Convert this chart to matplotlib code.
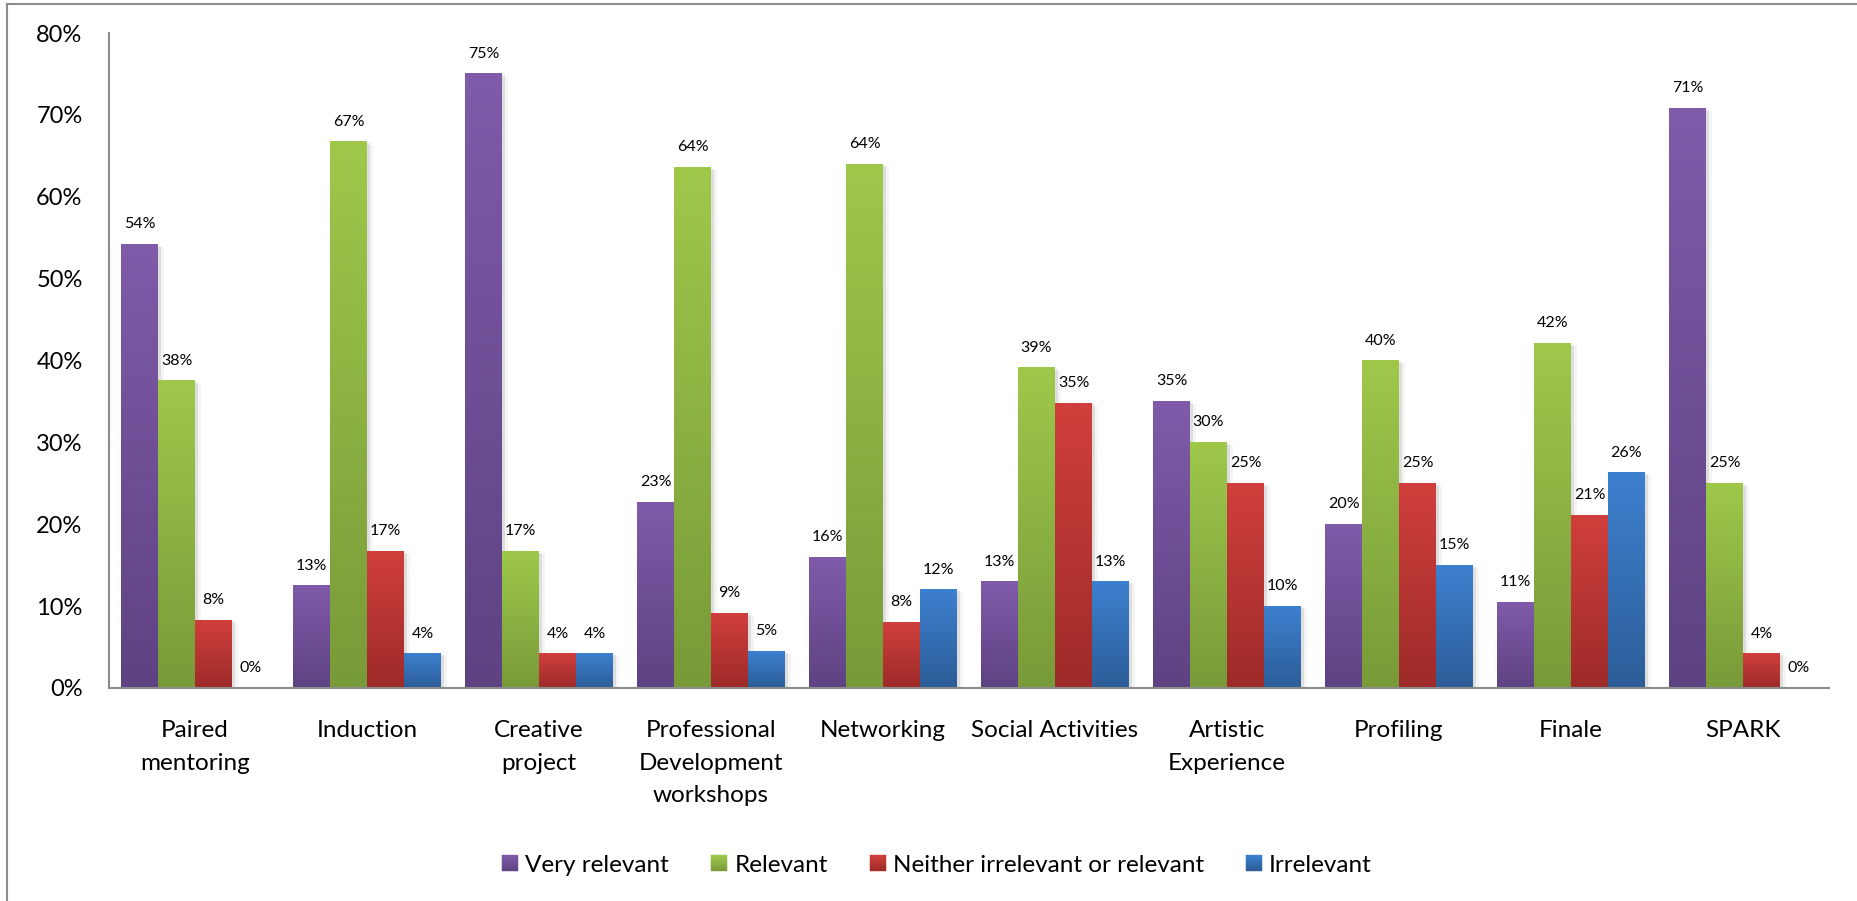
import numpy as np
import matplotlib.pyplot as plt
import matplotlib.patheffects as pe
from matplotlib.colors import LinearSegmentedColormap
from matplotlib.legend_handler import HandlerBase
from matplotlib.lines import Line2D
from matplotlib.patches import Rectangle

plt.rcParams['font.family'] = ['Lato', 'DejaVu Sans']

categories = ["Paired\nmentoring", "Induction", "Creative\nproject",
              "Professional\nDevelopment\nworkshops", "Networking",
              "Social Activities", "Artistic\nExperience", "Profiling",
              "Finale", "SPARK"]
series = ["Very relevant", "Relevant", "Neither irrelevant or relevant",
          "Irrelevant"]

# percentages per category
very_relevant = [54.2, 12.5, 75.0, 22.7, 16.0, 13.0, 35.0, 20.0, 10.5, 70.8]
relevant = [37.5, 66.7, 16.7, 63.6, 64.0, 39.1, 30.0, 40.0, 42.1, 25.0]
neither = [8.3, 16.7, 4.2, 9.1, 8.0, 34.8, 25.0, 25.0, 21.1, 4.2]
irrelevant = [0.0, 4.2, 4.2, 4.5, 12.0, 13.0, 10.0, 15.0, 26.3, 0.0]

yticks = [0, 10, 20, 30, 40, 50, 60, 70, 80]

# (top, bottom) gradient colours of each series
colors_top = ["#7F5BA9", "#9FC84B", "#D03F3C", "#3D80CF"]
colors_bottom = ["#5E4282", "#789A39", "#9D2B29", "#2C5D98"]

W, H = 1857, 901
fig = plt.figure(figsize=(W / 100, H / 100), dpi=100)
ax = fig.add_axes([109 / W, 1 - 688 / H, 1720 / W, 655 / H])

x = np.arange(len(categories))
width = 0.215
grad = np.linspace(1, 0, 256).reshape(-1, 1)
shadow = [pe.SimplePatchShadow(offset=(2, -1), shadow_rgbFace='0.4', alpha=0.15),
          pe.SimplePatchShadow(offset=(4, -2), shadow_rgbFace='0.4', alpha=0.07),
          pe.Normal()]

handles = []
handler_map = {}


class GradientSquare(HandlerBase):
    def __init__(self, cmap):
        super().__init__()
        self.cmap = cmap

    def create_artists(self, legend, orig_handle, xdescent, ydescent,
                       width, height, fontsize, trans):
        n = 16
        out = []
        for i in range(n):
            c = self.cmap((i + 0.5) / n)
            out.append(Rectangle((-xdescent, -ydescent + height * i / n),
                                 width, height / n, facecolor=c, edgecolor=c,
                                 lw=0.3, transform=trans))
        return out


for i, vals in enumerate([very_relevant, relevant, neither, irrelevant]):
    cmap = LinearSegmentedColormap.from_list(series[i], [colors_bottom[i], colors_top[i]])
    pos = x + (i - 1.5) * width
    bars = ax.bar(pos, vals, width, color=colors_top[i], zorder=2,
                  path_effects=shadow)
    for b, v in zip(bars, vals):
        if v > 0:
            ax.imshow(grad, extent=[b.get_x(), b.get_x() + b.get_width(), 0, v],
                      aspect='auto', cmap=cmap, vmin=0, vmax=1, zorder=3,
                      interpolation='bilinear')
        ax.annotate(f"{int(v + 0.5)}%", (b.get_x() + b.get_width() / 2, v),
                    xytext=(0, 16), textcoords='offset pixels', ha='center',
                    va='baseline', fontsize=11.5, color='black', zorder=4)
    h = Rectangle((0, 0), 1, 1, label=series[i])
    handles.append(h)
    handler_map[h] = GradientSquare(cmap)

ax.set_xlim(-0.5, len(categories) - 0.5)
ax.set_ylim(0, 80)
ax.set_yticks(yticks)
ax.set_yticklabels([f"{t}%" for t in yticks], fontsize=17)
ax.set_xticks(x)
ax.set_xticklabels(categories, fontsize=17.5, linespacing=1.68)
ax.tick_params(axis='y', length=0, pad=19)
ax.tick_params(axis='x', length=0, pad=23)
for side in ['top', 'right']:
    ax.spines[side].set_visible(False)
for side in ['left', 'bottom']:
    ax.spines[side].set_color('#8C8C8C')
    ax.spines[side].set_linewidth(1.5)
    ax.spines[side].set_zorder(5)

fig.legend(handles=handles, handler_map=handler_map, loc='center',
           bbox_to_anchor=(937 / W, 1 - 865 / H), ncol=4, frameon=False,
           fontsize=17.5, handlelength=0.66, handleheight=0.66,
           handletextpad=0.3, columnspacing=1.72)

# chart-area frame, top and left edges
fig.add_artist(Line2D([7 / W, 7 / W], [0, 1 - 4 / H], transform=fig.transFigure,
                      color='#8C8C8C', lw=1.5))
fig.add_artist(Line2D([7 / W, 1], [1 - 4 / H, 1 - 4 / H], transform=fig.transFigure,
                      color='#8C8C8C', lw=1.5))

fig.savefig("out.png", dpi=100)
